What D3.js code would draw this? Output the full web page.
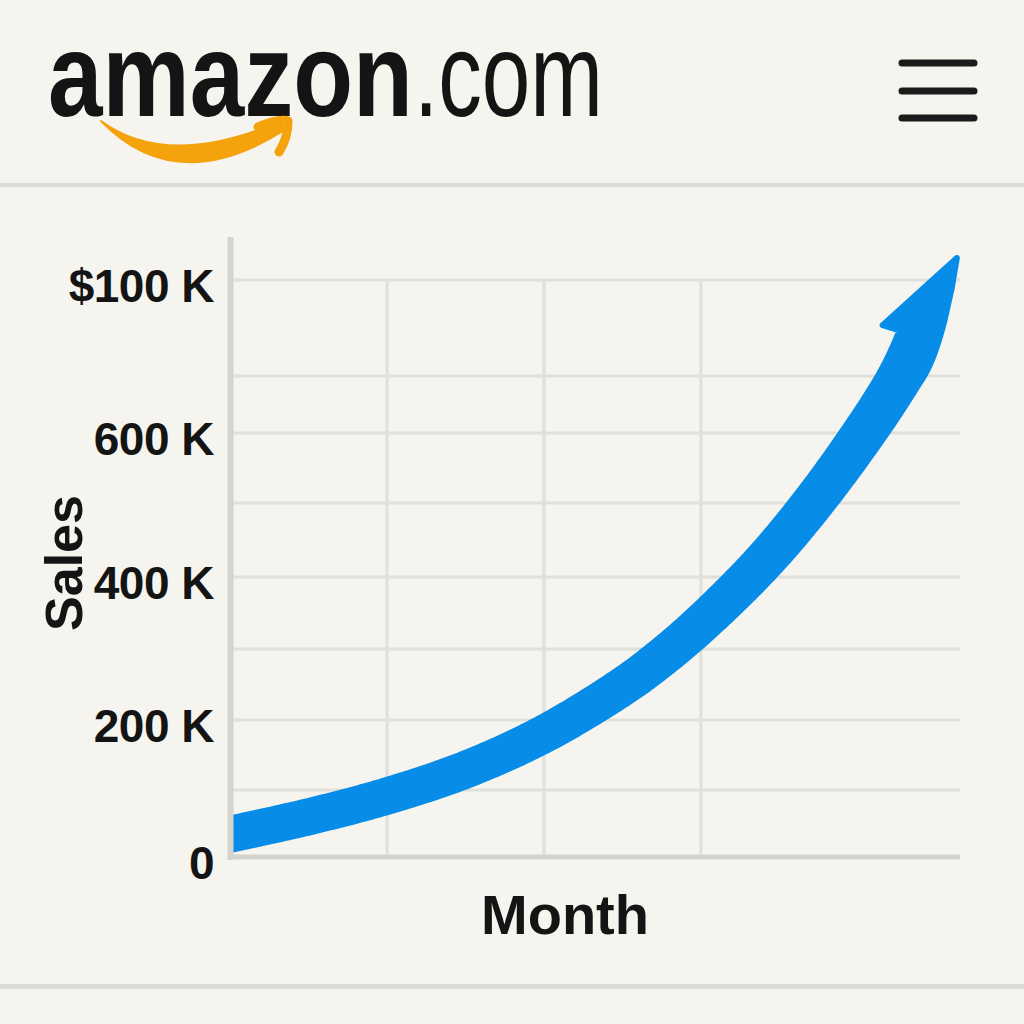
<!DOCTYPE html>
<html><head><meta charset="utf-8">
<script src="https://cdn.jsdelivr.net/npm/d3@7"></script>
<style>html,body{margin:0;padding:0;background:#f6f4ef;} svg{display:block}</style>
</head><body>
<svg id="c" width="1024" height="1024"></svg>
<script>
// ---- data ----
const months = [0, 0.5, 1, 1.5, 2, 2.5, 2.75, 3, 3.4, 3.75, 4.1, 4.3, 4.4];
const sales  = [34, 60, 91, 129, 180, 247, 288, 335, 421, 511, 625, 707, 734];
const arrowTipMonth = 4.63;
const arrowTipSales = 823;
const yTickValues = [0, 200, 400, 600, 800];
const yTickLabels = ["0", "200 K", "400 K", "600 K", "$100 K"];
const yMinorValues = [100, 300, 500, 700];
const xGridMonths = [1, 2, 3];
const yAxisTitle = "Sales";
const xAxisTitle = "Month";
const brandBold = "amazon";
const brandRegular = ".com";

// ---- layout ----
const W = 1024, H = 1024;
const svg = d3.select("#c");
const BG = "#f6f4ef", GRID = "#e0dfda", AXIS = "#d4d3ce", BLUE = "#078de8", INK = "#141414";
const FONT = "'Liberation Sans', Arial, Helvetica, sans-serif";
svg.append("rect").attr("width", W).attr("height", H).attr("fill", BG);

const x = d3.scaleLinear().domain([0, 4.65]).range([230, 960]);
const yGridDomain = [0, 100, 200, 300, 400, 500, 600, 700, 800];
const y = d3.scaleLinear().domain(yGridDomain).range([857, 790, 720, 649, 577, 503, 433, 376, 280]);

// header logo: condensed wordmark (scaled to the reference width)
const logo = svg.append("g");
function fitText(str, weight, left, baseline, targetW) {
  const t = logo.append("text")
    .attr("font-family", FONT).attr("font-weight", weight)
    .attr("font-size", 118).attr("fill", INK).text(str);
  const natural = t.node().getComputedTextLength();
  t.attr("transform", `translate(${left},${baseline}) scale(${targetW / natural},1)`);
  return t;
}
fitText(brandBold, 700, 48, 116, 365);
fitText(brandRegular, 400, 414, 116, 189);
// smile
const ORANGE = "#f5a30c";
logo.append("path")
  .attr("d", "M101,121 Q176,198 283,131 L281,121 Q168,170 101,121 Z")
  .attr("fill", ORANGE).attr("stroke", ORANGE).attr("stroke-width", 2).attr("stroke-linejoin", "round");
logo.append("path")
  .attr("d", "M258,127 Q279,118 288,121 Q288,138 279,152")
  .attr("fill", "none").attr("stroke", ORANGE).attr("stroke-width", 9)
  .attr("stroke-linecap", "round").attr("stroke-linejoin", "round");

// hamburger
svg.append("g").selectAll("line").data([63, 91, 118]).join("line")
  .attr("x1", 902).attr("x2", 974).attr("y1", d => d).attr("y2", d => d)
  .attr("stroke", "#1b1b1b").attr("stroke-width", 7).attr("stroke-linecap", "round");

// separators
svg.append("rect").attr("x", 0).attr("y", 183).attr("width", W).attr("height", 4).attr("fill", "#dcdbd6");
svg.append("rect").attr("x", 0).attr("y", 984).attr("width", W).attr("height", 5).attr("fill", "#dcdbd6");

// grid
const grid = svg.append("g");
grid.selectAll("line.h").data(yTickValues.concat(yMinorValues).filter(v => v > 0)).join("line")
  .attr("class", "h").attr("x1", x(0) + 3).attr("x2", x(4.65))
  .attr("y1", d => y(d)).attr("y2", d => y(d))
  .attr("stroke", GRID).attr("stroke-width", 3);
grid.selectAll("line.v").data(xGridMonths).join("line")
  .attr("class", "v").attr("x1", d => x(d)).attr("x2", d => x(d))
  .attr("y1", y(800)).attr("y2", y(0))
  .attr("stroke", GRID).attr("stroke-width", 3);

// ---- curved arrow: outline built around the data curve ----
const pts = months.map((m, i) => [x(m), y(sales[i])]);
const line = d3.line().curve(d3.curveCatmullRom.alpha(0.5));
const guide = svg.append("path").attr("d", line(pts)).attr("fill", "none").attr("stroke", "none");
const gnode = guide.node();
const L = gnode.getTotalLength();
const at = s => { const p = gnode.getPointAtLength(Math.max(0, Math.min(L, s))); return [p.x, p.y]; };
const tangentAt = s => {
  const ss = Math.min(L - 3, Math.max(3, s));
  const a = at(ss - 3), b = at(ss + 3);
  const l = Math.hypot(b[0] - a[0], b[1] - a[1]) || 1;
  return [(b[0] - a[0]) / l, (b[1] - a[1]) / l];
};
const STROKE = 6; // rounding stroke, half of it is added to each side
const hwRight = s => 18.5 + 4.5 * Math.pow(s / L, 2) - STROKE / 2;
const hwLeft = s => {
  let w = hwRight(s);
  const fl = 60;
  if (s > L - fl) w += 5 * Math.pow((s - (L - fl)) / fl, 2);
  return w;
};
const HEAD_BACK = 24; // the head's outer edge starts this far before the shaft end
const samples = [];
for (let s = 0; s <= L; s += 3) samples.push(s);
if (samples[samples.length - 1] < L) samples.push(L);
const leftE = [], rightE = [];
{
  const t0 = tangentAt(0), p0 = at(0);
  const pe = [p0[0] - t0[0] * 14, p0[1] - t0[1] * 14];
  const n0 = [t0[1], -t0[0]];
  leftE.push([pe[0] + n0[0] * hwLeft(0), pe[1] + n0[1] * hwLeft(0)]);
  rightE.push([pe[0] - n0[0] * hwRight(0), pe[1] - n0[1] * hwRight(0)]);
}
samples.forEach(s => {
  const p = at(s), t = tangentAt(s);
  const n = [t[1], -t[0]];
  leftE.push([p[0] + n[0] * hwLeft(s), p[1] + n[1] * hwLeft(s)]);
  if (s <= L - HEAD_BACK) rightE.push([p[0] - n[0] * hwRight(s), p[1] - n[1] * hwRight(s)]);
});
const tR = tangentAt(L - HEAD_BACK);
const tEnd = tangentAt(L);
const nEnd = [tEnd[1], -tEnd[0]];
const T = [x(arrowTipMonth), y(arrowTipSales)];
const R0 = rightE[rightE.length - 1];
const Lend = leftE[leftE.length - 1];
const B = [Lend[0] + nEnd[0] * 17 - tEnd[0] * 4, Lend[1] + nEnd[1] * 17 - tEnd[1] * 4];
// outer edge of head: smooth cubic continuing the shaft edge and turning almost vertical at the tip
const c1 = [R0[0] + tR[0] * 30, R0[1] + tR[1] * 30];
const tipIn = [0.14, -0.99];
const c2 = [T[0] - tipIn[0] * 34, T[1] - tipIn[1] * 34];

const ap = d3.path();
ap.moveTo(...rightE[0]);
rightE.slice(1).forEach(p => ap.lineTo(...p));
ap.bezierCurveTo(c1[0], c1[1], c2[0], c2[1], T[0], T[1]);
ap.lineTo(...B);
ap.lineTo(...Lend);
leftE.slice().reverse().forEach(p => ap.lineTo(...p));
ap.closePath();

svg.append("clipPath").attr("id", "plotclip").append("rect")
  .attr("x", x(0)).attr("y", 200).attr("width", 800).attr("height", 700);
svg.append("path").attr("d", ap.toString()).attr("clip-path", "url(#plotclip)")
  .attr("fill", BLUE).attr("stroke", BLUE).attr("stroke-width", STROKE).attr("stroke-linejoin", "round");

// axes
svg.append("line").attr("x1", x(0) + 0.5).attr("x2", x(0) + 0.5).attr("y1", 237).attr("y2", y(0) + 3)
  .attr("stroke", AXIS).attr("stroke-width", 6);
svg.append("line").attr("x1", x(0) - 2).attr("x2", x(4.65)).attr("y1", y(0)).attr("y2", y(0))
  .attr("stroke", AXIS).attr("stroke-width", 5);

// tick labels
svg.append("g").selectAll("text").data(yTickValues).join("text")
  .attr("x", 214).attr("y", v => y(v) + 22)
  .attr("text-anchor", "end")
  .attr("font-family", FONT).attr("font-weight", 700)
  .attr("font-size", 46).attr("fill", INK)
  .attr("letter-spacing", -0.5)
  .text((v, i) => yTickLabels[i]);

// axis titles
svg.append("text").attr("transform", "translate(82,563) rotate(-90)")
  .attr("text-anchor", "middle")
  .attr("font-family", FONT).attr("font-weight", 700)
  .attr("font-size", 52).attr("fill", INK).text(yAxisTitle);
svg.append("text").attr("x", 565).attr("y", 934)
  .attr("text-anchor", "middle")
  .attr("font-family", FONT).attr("font-weight", 700)
  .attr("font-size", 56).attr("fill", INK).text(xAxisTitle);
</script>
</body></html>
